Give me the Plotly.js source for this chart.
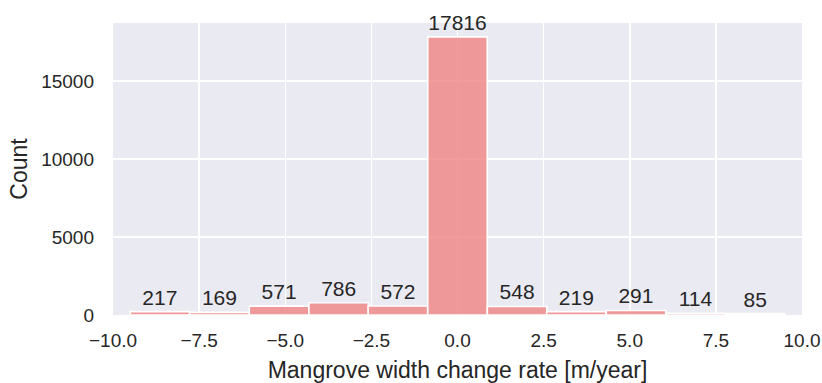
<!DOCTYPE html>
<html>
<head>
<meta charset="utf-8">
<script src="https://cdn.plot.ly/plotly-3.0.1.min.js"></script>
<style>
html,body{margin:0;padding:0;background:#fff;}
#chart{width:822px;height:383px;}
</style>
</head>
<body>
<div id="chart"></div>
<script>
// Bin centers of the histogram (m/year)
const binCenters = [-8.64, -6.91, -5.18, -3.45, -1.73, 0.0, 1.73, 3.45, 5.18, 6.91, 8.64];
// Counts per bin
const counts = [217, 169, 571, 786, 572, 17816, 548, 219, 291, 114, 85];
// Axis ticks
const xTickVals = [-10, -7.5, -5, -2.5, 0, 2.5, 5, 7.5, 10];
const xTickText = ["\u221210.0", "\u22127.5", "\u22125.0", "\u22122.5", "0.0", "2.5", "5.0", "7.5", "10.0"];
const yTickVals = [0, 5000, 10000, 15000];
const yTickText = ["0", "5000", "10000", "15000"];

const binWidth = 19 / 11;
const FONT = "Liberation Sans, Arial, sans-serif";
const TXT = "#262626";

const trace = {
  type: "bar",
  x: binCenters,
  y: counts,
  width: binCenters.map(() => binWidth),
  text: counts.map(String),
  textposition: "outside",
  constraintext: "none",
  cliponaxis: false,
  textfont: {family: FONT, size: 21, color: TXT},
  marker: {color: "rgba(240,128,128,0.78)", line: {color: "#ffffff", width: 1.6}},
  hoverinfo: "x+y"
};

const layout = {
  width: 822,
  height: 383,
  margin: {l: 113, r: 20, t: 23, b: 68, pad: 0},
  paper_bgcolor: "#ffffff",
  plot_bgcolor: "#EAEAF2",
  showlegend: false,
  bargap: 0,
  font: {family: FONT, color: TXT, size: 18},
  xaxis: {
    range: [-10, 10],
    tickvals: xTickVals,
    ticktext: xTickText,
    showgrid: true,
    gridcolor: "#ffffff",
    gridwidth: 1.5,
    zeroline: false,
    showline: false,
    ticks: "",
    ticklabelstandoff: 12,
    tickfont: {family: FONT, size: 19, color: TXT},
    title: {text: "Mangrove width change rate [m/year]", font: {family: FONT, size: 23, color: TXT}, standoff: 12}
  },
  yaxis: {
    range: [0, 18707],
    tickvals: yTickVals,
    ticktext: yTickText,
    showgrid: true,
    gridcolor: "#ffffff",
    gridwidth: 1.5,
    zeroline: false,
    showline: false,
    ticks: "",
    ticklabelstandoff: 18,
    tickfont: {family: FONT, size: 19, color: TXT},
    title: {text: "Count", font: {family: FONT, size: 23, color: TXT}, standoff: 7}
  }
};

Plotly.newPlot("chart", [trace], layout, {displayModeBar: false, staticPlot: true});
</script>
</body>
</html>
